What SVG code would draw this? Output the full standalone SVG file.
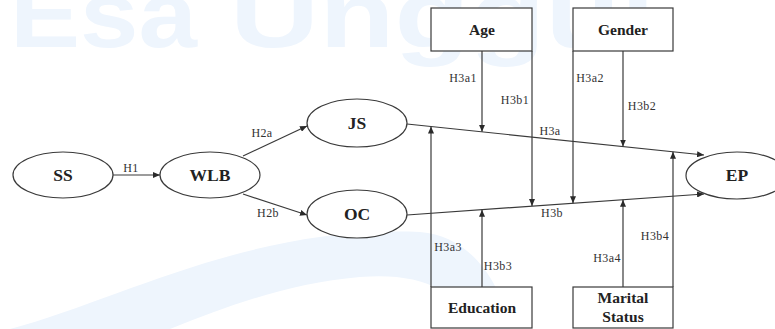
<svg xmlns="http://www.w3.org/2000/svg" width="775" height="329" viewBox="0 0 775 329">
  <style>
    .node { fill: #ffffff; stroke: #3a3a3a; stroke-width: 1.2; }
    .nl { font-family: "Liberation Serif", "Times New Roman", serif; font-weight: bold; fill: #222; text-anchor: middle; }
    .big { font-size: 17.5px; }
    .box { font-size: 15.5px; }
    .edge { stroke: #3a3a3a; stroke-width: 1.2; fill: none; marker-end: url(#arr); }
    .el { font-family: "Liberation Serif", "Times New Roman", serif; font-size: 12px; fill: #333; text-anchor: middle; letter-spacing: 0.4px; }
    .wm { font-family: "Liberation Sans", Arial, sans-serif; font-weight: bold; font-size: 95px; fill: #eef5fd; }
  </style>
  <defs>
    <marker id="arr" markerWidth="8" markerHeight="6" refX="7" refY="3" orient="auto" markerUnits="userSpaceOnUse">
      <path d="M0,0 L7,3 L0,6 Z" fill="#2a2a2a"/>
    </marker>
  </defs>
  <rect width="775" height="329" fill="#ffffff"/>
  <g id="watermark">
    <text class="wm" x="10" y="47" textLength="187" lengthAdjust="spacingAndGlyphs">Esa</text>
    <text class="wm" x="230" y="47" textLength="425" lengthAdjust="spacingAndGlyphs">Unggul</text>
    <path d="M 10 329 C 120 300, 250 225, 420 232 C 470 236, 500 280, 510 329 L 470 329 C 460 290, 420 272, 360 277 C 290 283, 230 305, 170 329 Z" fill="#eef5fd"/>
  </g>
  <g id="connectors">
    <line class="edge" x1="113" y1="175" x2="160" y2="175"/>
    <line class="edge" x1="243" y1="156" x2="307" y2="126"/>
    <line class="edge" x1="243" y1="194" x2="307" y2="215"/>
    <line class="edge" x1="407" y1="124" x2="704" y2="155"/>
    <line class="edge" x1="407" y1="215" x2="704" y2="194"/>
    <line class="edge" x1="482" y1="51" x2="482" y2="131.8"/>
    <line class="edge" x1="532" y1="51" x2="532" y2="206"/>
    <line class="edge" x1="573" y1="51" x2="573" y2="203.2"/>
    <line class="edge" x1="623" y1="51" x2="623" y2="146.5"/>
    <line class="edge" x1="431" y1="287" x2="431" y2="126.6"/>
    <line class="edge" x1="482" y1="287" x2="482" y2="209.7"/>
    <line class="edge" x1="623" y1="287" x2="623" y2="199.8"/>
    <line class="edge" x1="673" y1="287" x2="673" y2="151.8"/>
    <text class="el" x="131" y="172">H1</text>
    <text class="el" x="262" y="137">H2a</text>
    <text class="el" x="268" y="217">H2b</text>
    <text class="el" x="463" y="82">H3a1</text>
    <text class="el" x="515" y="104">H3b1</text>
    <text class="el" x="590" y="82">H3a2</text>
    <text class="el" x="642" y="110">H3b2</text>
    <text class="el" x="550" y="135">H3a</text>
    <text class="el" x="552" y="217">H3b</text>
    <text class="el" x="448" y="251">H3a3</text>
    <text class="el" x="498" y="270">H3b3</text>
    <text class="el" x="607" y="262">H3a4</text>
    <text class="el" x="655" y="240">H3b4</text>
  </g>
  <g id="SS">
    <ellipse class="node" cx="63" cy="175" rx="50" ry="23"/>
    <text class="nl big" x="63" y="181">SS</text>
  </g>
  <g id="WLB">
    <ellipse class="node" cx="210" cy="175" rx="50" ry="23"/>
    <text class="nl big" x="210" y="181">WLB</text>
  </g>
  <g id="JS">
    <ellipse class="node" cx="357" cy="123" rx="50" ry="24"/>
    <text class="nl big" x="357" y="129">JS</text>
  </g>
  <g id="OC">
    <ellipse class="node" cx="357" cy="214" rx="50" ry="24"/>
    <text class="nl big" x="357" y="220">OC</text>
  </g>
  <g id="EP">
    <ellipse class="node" cx="737" cy="175.5" rx="51" ry="23.5"/>
    <text class="nl big" x="737" y="181">EP</text>
  </g>
  <g id="Age">
    <rect class="node" x="431" y="8" width="101" height="43"/>
    <text class="nl box" x="482" y="35">Age</text>
  </g>
  <g id="Gender">
    <rect class="node" x="573" y="8" width="100" height="43"/>
    <text class="nl box" x="623" y="35">Gender</text>
  </g>
  <g id="Education">
    <rect class="node" x="431" y="287" width="101" height="41"/>
    <text class="nl box" x="482" y="313">Education</text>
  </g>
  <g id="MaritalStatus">
    <rect class="node" x="573" y="287" width="100" height="41"/>
    <text class="nl box" x="623" y="303">Marital</text>
    <text class="nl box" x="623" y="322">Status</text>
  </g>
</svg>
